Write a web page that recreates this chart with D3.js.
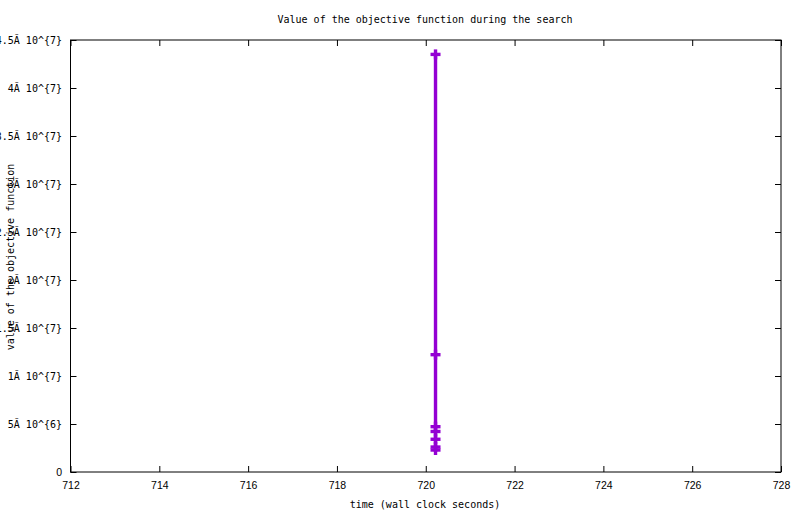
<!DOCTYPE html>
<html>
<head>
<meta charset="utf-8">
<script src="https://cdn.jsdelivr.net/npm/d3@7"></script>
<style>
  html, body { margin: 0; padding: 0; background: #fff; }
  svg { display: block; }
</style>
</head>
<body>
<svg id="chart" width="800" height="514"></svg>
<script>
const title = "Value of the objective function during the search";
const xLabel = "time (wall clock seconds)";
const yLabel = "value of the objective function";
const xTicks = [712, 714, 716, 718, 720, 722, 724, 726, 728];
const yTicks = [0, 5e6, 1e7, 1.5e7, 2e7, 2.5e7, 3e7, 3.5e7, 4e7, 4.5e7];
const yTickLabels = ["0", "5Ă 10^{6}", "1Ă 10^{7}", "1.5Ă 10^{7}", "2Ă 10^{7}", "2.5Ă 10^{7}", "3Ă 10^{7}", "3.5Ă 10^{7}", "4Ă 10^{7}", "4.5Ă 10^{7}"];
const times = [720.22, 720.22, 720.22, 720.22, 720.22, 720.22, 720.22];
const values = [43.5e6, 12.22e6, 4.72e6, 4.22e6, 3.41e6, 2.60e6, 2.29e6];

const svg = d3.select("#chart");
const L = 70.5, R = 781, T = 40, B = 472;
const x = d3.scaleLinear().domain([712, 728]).range([L, R]);
const y = d3.scaleLinear().domain([0, 4.5e7]).range([B, T]);
const color = "#9400d3";
const mono = "'DejaVu Sans Mono', monospace";
const sans = "'Liberation Sans', Arial, sans-serif";

// frame
svg.append("rect").attr("x", L).attr("y", T).attr("width", R - L).attr("height", B - T)
  .attr("fill", "none").attr("stroke", "#000").attr("stroke-width", 1);

// x axis (bottom, inward ticks)
const xAxisB = d3.axisBottom(x).tickValues(xTicks).tickSizeInner(-6).tickSizeOuter(0).tickPadding(10);
const gxb = svg.append("g").attr("transform", `translate(0,${B})`).call(xAxisB);
gxb.select(".domain").remove();
gxb.selectAll("text").attr("font-family", sans).attr("font-size", "10.5px").attr("fill", "#000");
gxb.selectAll("line").attr("stroke", "#000");

// x mirror ticks (top)
const gxt = svg.append("g").attr("transform", `translate(0,${T})`)
  .call(d3.axisTop(x).tickValues(xTicks).tickSizeInner(-6).tickSizeOuter(0).tickFormat(""));
gxt.select(".domain").remove();
gxt.selectAll("line").attr("stroke", "#000");

// y axis (left, inward ticks)
const gyl = svg.append("g").attr("transform", `translate(${L},0)`)
  .call(d3.axisLeft(y).tickValues(yTicks).tickSizeInner(-6).tickSizeOuter(0).tickPadding(8.5)
    .tickFormat((d, i) => yTickLabels[i]));
gyl.select(".domain").remove();
gyl.selectAll("line").attr("stroke", "#000");
gyl.selectAll("text").attr("font-family", mono).attr("font-size", "10px").attr("fill", "#000");
gyl.selectAll("text").filter(d => d === 0).attr("font-family", sans).attr("font-size", "10.5px");

// y mirror ticks (right)
const gyr = svg.append("g").attr("transform", `translate(${R},0)`)
  .call(d3.axisRight(y).tickValues(yTicks).tickSizeInner(-6).tickSizeOuter(0).tickFormat(""));
gyr.select(".domain").remove();
gyr.selectAll("line").attr("stroke", "#000");

// title and labels
svg.append("text").attr("x", 425).attr("y", 23).attr("text-anchor", "middle")
  .attr("font-family", mono).attr("font-size", "10px").text(title);
svg.append("text").attr("x", 425).attr("y", 508).attr("text-anchor", "middle")
  .attr("font-family", mono).attr("font-size", "10px").text(xLabel);
svg.append("text").attr("transform", "translate(14,257) rotate(-90)").attr("text-anchor", "middle")
  .attr("font-family", mono).attr("font-size", "10px").text(yLabel);

// data line
const pts = times.map((t, i) => [t, values[i]]);
svg.append("path").datum(pts)
  .attr("fill", "none").attr("stroke", color).attr("stroke-width", 3.4)
  .attr("d", d3.line().x(d => x(d[0])).y(d => y(d[1])));

// plus markers
const mk = svg.append("g").attr("stroke", color).attr("stroke-width", 3.4);
pts.forEach(d => {
  const cx = x(d[0]), cy = y(d[1]);
  mk.append("line").attr("x1", cx - 5).attr("x2", cx + 5).attr("y1", cy).attr("y2", cy);
  mk.append("line").attr("x1", cx).attr("x2", cx).attr("y1", cy - 5).attr("y2", cy + 5);
});
</script>
</body>
</html>
